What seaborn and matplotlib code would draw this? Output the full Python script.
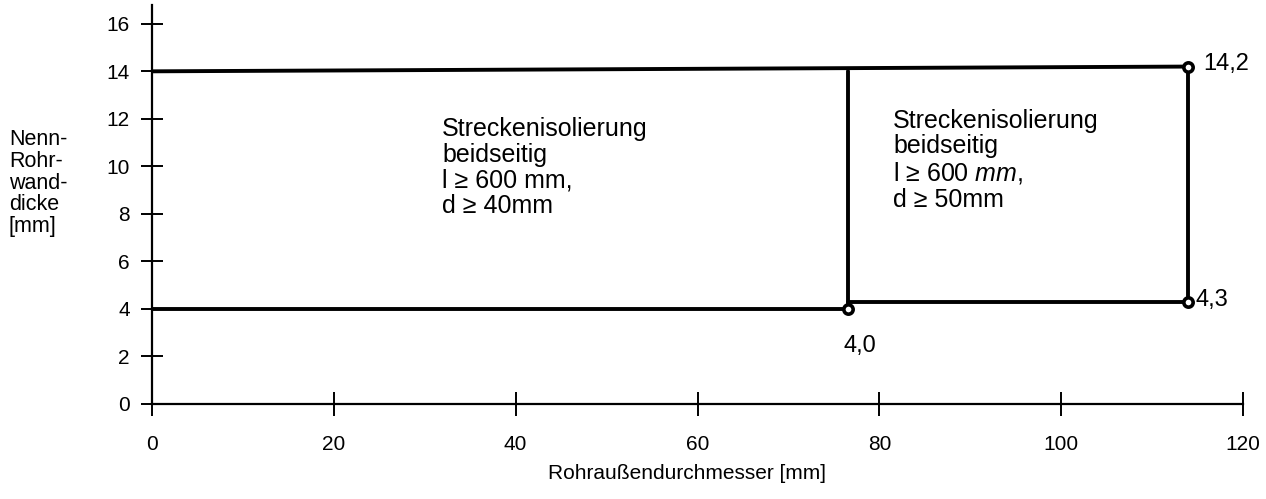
import matplotlib
matplotlib.use("Agg")
import matplotlib.pyplot as plt
import pandas as pd
import seaborn as sns

# Outline segments of the two regions (x = Rohraußendurchmesser, y = Wanddicke)
seg_ids = ["top", "top", "bottom_left", "bottom_left", "middle", "middle",
           "bottom_right", "bottom_right", "right", "right"]
seg_x = [0, 114.0, 0, 76.6, 76.6, 76.6, 76.6, 114.0, 114.0, 114.0]
seg_y = [14.0, 14.2, 4.0, 4.0, 4.0, 14.0, 4.3, 4.3, 4.3, 14.2]

# Marked corner points and their labels
pt_x = [76.6, 114.0, 114.0]
pt_y = [4.0, 14.2, 4.3]
pt_labels = ["4,0", "14,2", "4,3"]

x_ticks = [0, 20, 40, 60, 80, 100, 120]
y_ticks = [0, 2, 4, 6, 8, 10, 12, 14, 16]

region_texts = [
    "Streckenisolierung\nbeidseitig\nl \u2265 600 mm,\nd \u2265 40mm",
    "Streckenisolierung\nbeidseitig\nl \u2265 $\\mathit{600\\ mm,}$\nd \u2265 50mm",
]
region_pos = [(31.9, 9.95), (81.5, 10.25)]

sns.set_theme(style="ticks")
plt.rcParams["font.family"] = ["Liberation Sans", "DejaVu Sans"]
plt.rcParams.update({
    "text.color": "black", "axes.labelcolor": "black",
    "xtick.color": "black", "ytick.color": "black",
    "mathtext.fontset": "custom",
    "mathtext.rm": "Liberation Sans",
    "mathtext.it": "Liberation Sans:italic",
})

fig = plt.figure(figsize=(12.66, 4.99), dpi=100)
ax = fig.add_axes([0.1201, 0.1904, 0.8617, 0.80])

lines = pd.DataFrame({"seg": seg_ids, "x": seg_x, "y": seg_y})
sns.lineplot(data=lines, x="x", y="y", units="seg", estimator=None, sort=False,
             color="black", linewidth=2.8, ax=ax, legend=False)

pts = pd.DataFrame({"x": pt_x, "y": pt_y})
sns.scatterplot(data=pts, x="x", y="y", ax=ax, s=45, marker="o",
                facecolor="white", edgecolor="black", linewidth=2.6, zorder=5)

ax.annotate(pt_labels[0], (pt_x[0], pt_y[0]), xytext=(8, -27), textcoords="offset points",
            ha="center", va="center", fontsize=17)
ax.annotate(pt_labels[1], (pt_x[1], pt_y[1]), xytext=(11, 2), textcoords="offset points",
            ha="left", va="center", fontsize=17)
ax.annotate(pt_labels[2], (pt_x[2], pt_y[2]), xytext=(5, 1), textcoords="offset points",
            ha="left", va="center", fontsize=17)

for (tx, ty), txt in zip(region_pos, region_texts):
    ax.text(tx, ty, txt, ha="left", va="center", fontsize=18, linespacing=1.1)

ax.set_xlim(0, 120)
ax.set_ylim(0, 16.8)
ax.set_xticks(x_ticks)
ax.set_yticks(y_ticks)
ax.set_xticklabels([str(v) for v in x_ticks])
ax.set_yticklabels([str(v) for v in y_ticks])
ax.tick_params(axis="x", direction="inout", length=17, width=1.4, pad=14, labelsize=15)
ax.tick_params(axis="y", direction="inout", length=16, width=1.4, pad=8, labelsize=15)
sns.despine(ax=ax)
for side in ["left", "bottom"]:
    ax.spines[side].set_linewidth(1.6)
    ax.spines[side].set_color("black")

ax.set_xlabel("Rohraußendurchmesser [mm]", fontsize=15, labelpad=4)
ax.xaxis.set_label_coords(0.49, -0.15)
ax.set_ylabel("")
fig.text(0.007, 0.633, "Nenn-\nRohr-\nwand-\ndicke\n[mm]", ha="left", va="center",
         fontsize=15.5, linespacing=1.05)

fig.savefig("out.png", dpi=100, facecolor="white")
